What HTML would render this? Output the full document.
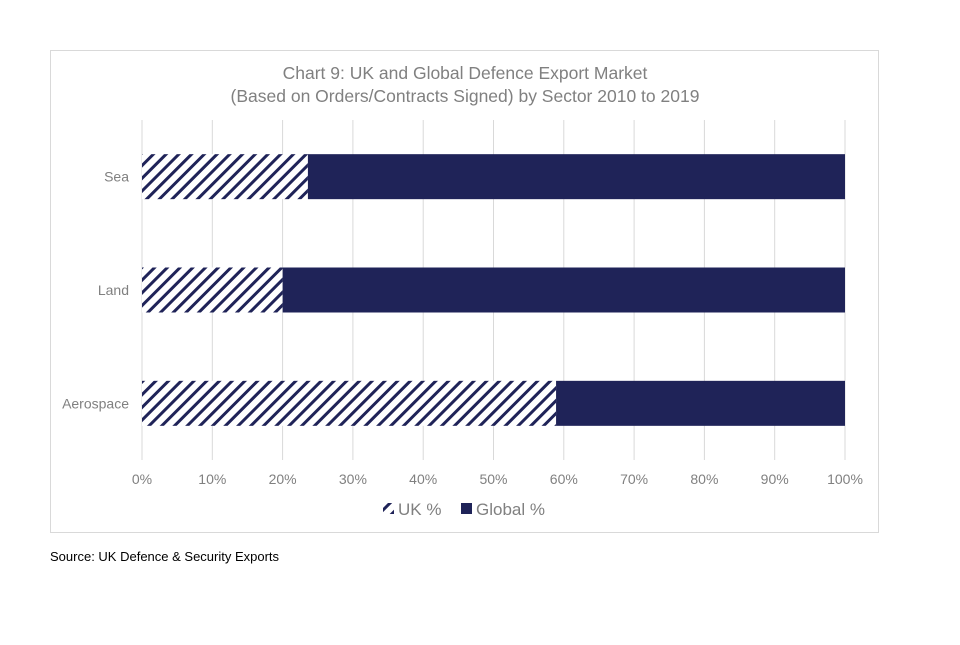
<!DOCTYPE html>
<html><head><meta charset="utf-8"><style>
body{margin:0;background:#fff;width:960px;height:640px;overflow:hidden;font-family:"Liberation Sans",Arial,sans-serif}
</style></head><body>
<svg id="chart" width="960" height="640" xmlns="http://www.w3.org/2000/svg">
<defs>
<pattern id="hatch" patternUnits="userSpaceOnUse" width="9" height="9" patternTransform="rotate(45)">
<rect width="9" height="9" fill="#fff"/>
<rect x="0" y="0" width="3" height="9" fill="#1f2358"/>
</pattern>
</defs>
<rect x="50.5" y="50.5" width="828" height="482" fill="#fff" stroke="#d9d9d9"/>
<text x="465" y="79" text-anchor="middle" font-size="17.5" fill="#808080">Chart 9: UK and Global Defence Export Market</text>
<text x="465" y="102" text-anchor="middle" font-size="17.5" fill="#808080">(Based on Orders/Contracts Signed) by Sector 2010 to 2019</text>
<g id="grid"></g><g id="bars"></g><g id="labels"></g>
<g>
<rect x="383" y="503" width="11" height="11" fill="url(#hatch)"/>
<text x="398" y="515" font-size="17" fill="#808080">UK %</text>
<rect x="461" y="503" width="11" height="11" fill="#1f2358"/>
<text x="476" y="515" font-size="17" fill="#808080">Global %</text>
</g>
<text x="50" y="561" font-size="13" fill="#000">Source: UK Defence &amp; Security Exports</text>
</svg>
<script>
const categories=["Sea","Land","Aerospace"];
const ukValues=[23.6,20,58.9];
const globalValues=[76.4,80,41.1];
const ticks=[0,10,20,30,40,50,60,70,80,90,100];
const NS="http://www.w3.org/2000/svg";
const x=v=>142+v*7.03;
const yTop=120,yBot=460,band=(yBot-yTop)/categories.length;
function mk(t,a,p){const e=document.createElementNS(NS,t);for(const k in a)e.setAttribute(k,a[k]);p.appendChild(e);return e;}
const grid=document.getElementById('grid'),bars=document.getElementById('bars'),labels=document.getElementById('labels');
ticks.forEach(t=>{
const l=mk('line',{x1:x(t),x2:x(t),y1:yTop,y2:yBot,stroke:'#d9d9d9'},grid);


const tx=mk('text',{x:x(t),y:484,'text-anchor':'middle','font-size':14,fill:'#808080'},labels);
tx.textContent=t+'%';


});
categories.forEach((c,i)=>{
const cy=yTop+band*(i+0.5),h=45,y0=cy-h/2;
const u=mk('rect',{x:x(0),y:y0,width:x(ukValues[i])-x(0),height:h,fill:'url(#hatch)'},bars);


const g=mk('rect',{x:x(ukValues[i]),y:y0,width:x(ukValues[i]+globalValues[i])-x(ukValues[i]),height:h,fill:'#1f2358'},bars);


const t=mk('text',{x:129,y:cy+5,'text-anchor':'end','font-size':14,fill:'#808080'},labels);
t.textContent=c;


});
</script>
</body></html>
